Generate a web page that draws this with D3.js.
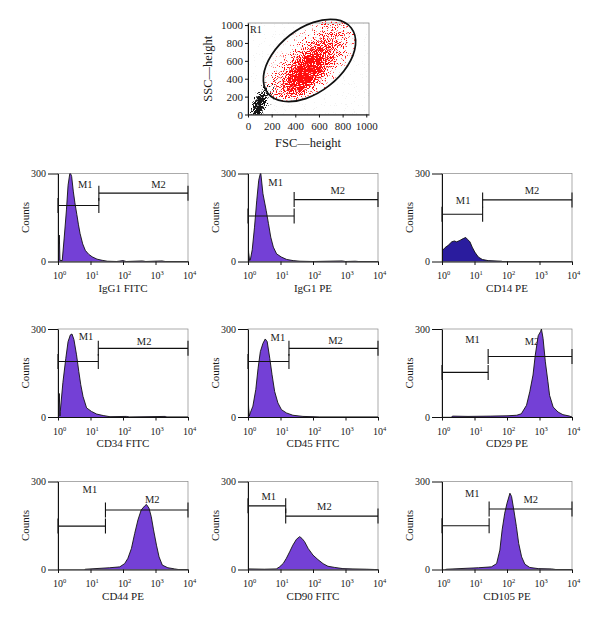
<!DOCTYPE html>
<html><head><meta charset="utf-8">
<script src="https://cdn.jsdelivr.net/npm/d3@7"></script>
<style>
body{margin:0;background:#fff}
svg{display:block}
text{font-family:"Liberation Serif","Times New Roman",serif;fill:#1a1a1a}
</style>
</head><body>
<svg id="chart" width="600" height="628"></svg>
<script>
// ---------------- DATA ----------------
// Scatter (FSC/SSC) axis ticks
const fscTicks = [0, 200, 400, 600, 800, 1000];
const sscTicks = [0, 200, 400, 600, 800, 1000];
// R1 gate outline vertices (FSC, SSC)
const gateR1 = [[873,967],[909,778],[841,542],[686,322],[488,178],[298,148],[167,239],[131,430],[199,666],[353,886],[552,1030],[743,1060]];
// Event clouds: centre, spread and correlation
const gatedClouds = [
  {fsc:470, ssc:430, sdFsc:75,  sdSsc:100, rho:0.5,  weight:1.0},
  {fsc:490, ssc:480, sdFsc:140, sdSsc:190, rho:0.6,  weight:0.85},
  {fsc:570, ssc:640, sdFsc:210, sdSsc:290, rho:0.75, weight:0.55}
];
const debrisClouds = [
  {fsc:80,  ssc:50,  sdFsc:30, sdSsc:60,  rho:0.3, weight:1.0},
  {fsc:95,  ssc:120, sdFsc:38, sdSsc:85,  rho:0.5, weight:1.0},
  {fsc:140, ssc:200, sdFsc:45, sdSsc:100, rho:0.6, weight:0.5}
];

// Histogram panels
const panelNames = ["IgG1 FITC","IgG1 PE","CD14 PE","CD34 FITC","CD45 FITC","CD29 PE","CD44 PE","CD90 FITC","CD105 PE"];
const countTicks = [0, 300];
const decadeTicks = [1, 10, 100, 1000, 10000];
// [log10 fluorescence, counts]
const histIgG1FITC = [[0,140],[0.02,60],[0.04,90],[0.06,4],[0.13,3],[0.19,80],[0.26,176],[0.31,260],[0.37,305],[0.42,290],[0.47,240],[0.52,200],[0.58,160],[0.63,125],[0.68,95],[0.76,60],[0.84,38],[0.94,25],[1.05,16],[1.2,8],[1.36,4],[1.52,1],[1.8,0],[2.0,3],[2.1,0],[2.6,2],[2.7,0],[3.2,2],[3.3,0],[4,0]];
const histIgG1PE = [[0,78],[0.02,30],[0.05,3],[0.07,5],[0.13,40],[0.2,117],[0.27,209],[0.33,277],[0.39,305],[0.46,231],[0.56,174],[0.63,129],[0.7,83],[0.78,49],[0.88,26],[1.03,15],[1.19,7],[1.39,3],[1.6,1],[2.0,0],[2.9,2],[3.0,0],[3.3,1],[3.4,0],[4,0]];
const histCD14PE = [[0,38],[0.02,38],[0.09,47],[0.19,55],[0.3,67],[0.38,70],[0.45,67],[0.55,72],[0.65,78],[0.73,82],[0.79,75],[0.86,67],[0.93,49],[1.01,32],[1.12,15],[1.24,7],[1.42,3],[1.83,1],[1.85,0],[4,0]];
const histCD34FITC = [[0,127],[0.02,50],[0.04,80],[0.06,3],[0.07,19],[0.15,117],[0.24,200],[0.31,257],[0.38,280],[0.43,283],[0.49,264],[0.57,212],[0.64,155],[0.7,110],[0.77,70],[0.88,31],[1.03,19],[1.19,10],[1.39,5],[1.6,1],[2.1,2],[2.2,0],[3.3,2],[3.35,0],[4,0]];
const histCD45FITC = [[0,87],[0.02,30],[0.04,3],[0.07,14],[0.15,37],[0.24,94],[0.31,166],[0.38,223],[0.46,251],[0.53,266],[0.59,257],[0.67,200],[0.74,144],[0.82,87],[0.92,48],[1.03,25],[1.18,14],[1.38,6],[1.69,2],[2.0,1],[2.2,0],[4,0]];
const histCD29PE = [[0.3,0],[0.32,3],[0.8,2],[1.5,3],[2.0,4],[2.3,6],[2.44,11],[2.6,40],[2.7,86],[2.8,143],[2.87,211],[2.96,277],[3.03,291],[3.06,300],[3.11,268],[3.18,188],[3.26,120],[3.31,74],[3.42,34],[3.57,17],[3.72,8],[3.93,3],[4,0]];
const histCD44PE = [[0.82,0],[0.85,1],[1.59,6],[1.9,9],[2.05,20],[2.15,38],[2.26,72],[2.36,123],[2.46,169],[2.56,203],[2.67,217],[2.72,222],[2.8,209],[2.87,180],[2.94,135],[3.03,83],[3.11,43],[3.21,15],[3.38,6],[3.59,2],[3.7,0],[4,0]];
const histCD90FITC = [[0,9],[0.02,2],[0.5,1],[0.87,2],[0.97,9],[1.08,20],[1.18,38],[1.28,60],[1.38,83],[1.49,103],[1.59,112],[1.66,106],[1.74,95],[1.85,72],[2.0,49],[2.15,34],[2.31,20],[2.46,11],[2.67,7],[2.92,3],[3.23,2],[3.64,1],[3.9,0],[4,0]];
const histCD105PE = [[0.1,0],[0.15,1],[1.12,6],[1.52,9],[1.68,20],[1.78,66],[1.85,135],[1.93,192],[2.0,226],[2.09,260],[2.14,249],[2.21,203],[2.29,146],[2.36,89],[2.45,43],[2.55,18],[2.7,7],[2.96,3],[3.37,2],[3.5,0],[4,0]];
const histograms = [histIgG1FITC, histIgG1PE, histCD14PE, histCD34FITC, histCD45FITC, histCD29PE, histCD44PE, histCD90FITC, histCD105PE];
// Markers: split point (log10), M1 and M2 levels (counts), label positions [log10, counts]
const markerSplit = [1.257, 1.42, 1.25, 1.24, 1.26, 1.42, 1.46, 1.16, 1.45];
const m1Level = [191, 155, 161, 189, 189, 152, 148, 217, 149];
const m2Level = [233, 211, 210, 234, 234, 206, 203, 182, 206];
const m1LabelPos = [[0.84,262],[0.85,271],[0.65,208],[0.86,274],[0.92,271],[0.94,266],[0.98,274],[0.64,249],[0.93,260]];
const m2LabelPos = [[3.09,262],[2.76,243],[2.77,242],[2.65,257],[2.69,263],[2.77,257],[2.9,239],[2.35,214],[2.73,240]];

// ---------------- STYLE / LAYOUT ----------------
const colLeft = [58, 248, 442];
const rowTop = [173.5, 329, 481.5];
const PW = 130, PH = 88;
const fills = ["#7440d6","#7440d6","#2a1c9e","#7440d6","#7440d6","#7440d6","#7440d6","#7440d6","#7440d6"];

const svg = d3.select("#chart");
const defs = svg.append("defs");

// ---------------- SCATTER ----------------
const sx = d3.scaleLinear([0, 1023], [248, 369]);
const sy = d3.scaleLinear([0, 1023], [114.5, 23]);

// gaussian-profile radial gradient
const grad = defs.append("radialGradient").attr("id", "grad-cloud");
d3.range(0, 1.0001, 0.1).forEach(r => {
  grad.append("stop").attr("offset", r).attr("stop-color", "#000")
    .attr("stop-opacity", Math.exp(-0.5 * (2.5 * r) ** 2));
});

// speckle texture: density (alpha) -> fraction of lit pixels
function speckle(id, color, seed, k4) {
  const f = defs.append("filter").attr("id", id)
    .attr("filterUnits", "userSpaceOnUse")
    .attr("x", 240).attr("y", 10).attr("width", 140).attr("height", 115)
    .attr("color-interpolation-filters", "sRGB");
  f.append("feTurbulence").attr("type", "fractalNoise").attr("baseFrequency", 0.9)
    .attr("numOctaves", 1).attr("seed", seed).attr("result", "noise0");
  const ct = f.append("feComponentTransfer").attr("in", "noise0").attr("result", "noise");
  ct.append("feFuncA").attr("type", "linear").attr("slope", 2.6).attr("intercept", -0.8);
  f.append("feComposite").attr("in", "SourceAlpha").attr("in2", "noise")
    .attr("operator", "arithmetic").attr("k1", 0).attr("k2", 6).attr("k3", 6).attr("k4", k4)
    .attr("result", "mask");
  f.append("feFlood").attr("flood-color", color).attr("result", "col");
  f.append("feComposite").attr("in", "col").attr("in2", "mask").attr("operator", "in");
}
speckle("speck-red", "#ff0d0d", 7, -5.85);
speckle("speck-black", "#141414", 3, -5.95);

defs.append("clipPath").attr("id", "clip-scatter").append("rect")
  .attr("x", sx(0)).attr("y", sy(1023)).attr("width", sx(1023) - sx(0)).attr("height", sy(0) - sy(1023));

const gateLine = d3.line().x(d => sx(d[0])).y(d => sy(d[1])).curve(d3.curveCardinalClosed.tension(0));
defs.append("clipPath").attr("id", "clip-gate").append("path").attr("d", gateLine(gateR1));

function cloudEllipse(c) {
  const kx = Math.abs(sx(1) - sx(0)), ky = Math.abs(sy(1) - sy(0));
  const vx = (c.sdFsc * kx) ** 2, vy = (c.sdSsc * ky) ** 2;
  const cov = -c.rho * c.sdFsc * kx * c.sdSsc * ky;
  const m = (vx + vy) / 2, d = Math.sqrt(((vx - vy) / 2) ** 2 + cov ** 2);
  const ang = 0.5 * Math.atan2(2 * cov, vx - vy) * 180 / Math.PI;
  return {cx: sx(c.fsc), cy: sy(c.ssc), rx: 2.5 * Math.sqrt(m + d), ry: 2.5 * Math.sqrt(m - d), ang};
}

const scatter = svg.append("g");
scatter.append("rect").attr("x", sx(0)).attr("y", sy(1023))
  .attr("width", sx(1023) - sx(0)).attr("height", sy(0) - sy(1023))
  .attr("fill", "#fff").attr("stroke", "#777").attr("stroke-width", 0.7);

function drawClouds(data, filter, clip) {
  const g = scatter.append("g").attr("clip-path", `url(#${clip})`)
    .append("g").attr("filter", `url(#${filter})`);
  g.selectAll("ellipse").data(data.map(cloudEllipse)).join("ellipse")
    .attr("cx", 0).attr("cy", 0).attr("rx", d => d.rx).attr("ry", d => d.ry)
    .attr("transform", d => `translate(${d.cx},${d.cy}) rotate(${d.ang})`)
    .attr("fill", "url(#grad-cloud)")
    .attr("fill-opacity", (d, i) => data[i].weight);
}
drawClouds(debrisClouds, "speck-black", "clip-scatter");
drawClouds(gatedClouds, "speck-red", "clip-gate");

scatter.append("path").attr("d", gateLine(gateR1))
  .attr("fill", "none").attr("stroke", "#111").attr("stroke-width", 1.7);

// scatter axes
const sAxB = scatter.append("g").attr("transform", `translate(0,${sy(0)})`);
sAxB.call(d3.axisBottom(sx).tickValues(d3.range(0, 1024, 32)).tickSize(2).tickSizeOuter(0).tickFormat(""));
sAxB.call(d3.axisBottom(sx).tickValues(fscTicks).tickSize(3).tickSizeOuter(0).tickPadding(5).tickFormat(d3.format("d")));
const sAxL = scatter.append("g").attr("transform", `translate(${sx(0)},0)`);
sAxL.call(d3.axisLeft(sy).tickValues(d3.range(0, 1024, 32)).tickSize(2).tickSizeOuter(0).tickFormat(""));
sAxL.call(d3.axisLeft(sy).tickValues(sscTicks).tickSize(3).tickSizeOuter(0).tickPadding(2).tickFormat(d3.format("d")));
scatter.selectAll(".tick text").attr("font-size", 11).attr("font-family", "Liberation Serif, serif").attr("fill", "#1a1a1a");
scatter.selectAll(".domain, .tick line").attr("stroke", "#111");

scatter.append("text").attr("x", 308).attr("y", 146.5).attr("text-anchor", "middle")
  .attr("font-size", 12.5).text("FSC\u2014height");
scatter.append("text").attr("transform", `translate(212,${(sy(0) + sy(1023)) / 2}) rotate(-90)`)
  .attr("text-anchor", "middle").attr("font-size", 12.5).text("SSC\u2014height");
scatter.append("text").attr("x", 250).attr("y", 33).attr("font-size", 10).text("R1");

// ---------------- HISTOGRAMS ----------------
const minorDecade = [];
[0, 1, 2, 3].forEach(p => d3.range(2, 10).forEach(k => minorDecade.push(k * 10 ** p)));

histograms.forEach((hist, i) => {
  const left = colLeft[i % 3], top = rowTop[Math.floor(i / 3)];
  const right = left + PW, bottom = top + PH;
  const x = d3.scaleLog().domain([1, 1e4]).range([left, right]);
  const y = d3.scaleLinear().domain([0, 300]).range([bottom, top]);
  const g = svg.append("g");

  defs.append("clipPath").attr("id", "clip-h" + i).append("rect")
    .attr("x", left).attr("y", top).attr("width", PW).attr("height", PH);

  // frame (top/right)
  g.append("rect").attr("x", left).attr("y", top).attr("width", PW).attr("height", PH)
    .attr("fill", "none").attr("stroke", "#888").attr("stroke-width", 0.7);

  // marker labels (under histogram)
  [["M1", m1LabelPos[i]], ["M2", m2LabelPos[i]]].forEach(([t, p]) => {
    g.append("text").attr("x", x(10 ** p[0])).attr("y", y(p[1])).attr("dy", "0.35em")
      .attr("text-anchor", "middle").attr("font-size", 10.5).text(t);
  });

  // histogram
  const hg = g.append("g").attr("clip-path", `url(#clip-h${i})`);
  const area = d3.area().x(d => x(10 ** d[0])).y0(y(0)).y1(d => y(d[1]));
  const line = d3.line().x(d => x(10 ** d[0])).y(d => y(d[1]));
  hg.append("path").datum(hist).attr("d", area).attr("fill", fills[i]);
  hg.append("path").datum(hist).attr("d", line).attr("fill", "none")
    .attr("stroke", "#111").attr("stroke-width", 0.9).attr("stroke-linejoin", "round");

  // markers
  const split = 10 ** markerSplit[i];
  const mk = [[1, split, m1Level[i]], [split, 1e4, m2Level[i]]];
  mk.forEach(([a, b, lv]) => {
    const yy = y(lv);
    g.append("line").attr("x1", x(a)).attr("x2", x(b)).attr("y1", yy).attr("y2", yy)
      .attr("stroke", "#111").attr("stroke-width", 1.1);
    [a, b].forEach(v => g.append("line").attr("x1", x(v)).attr("x2", x(v))
      .attr("y1", yy - 7.5).attr("y2", yy + 7.5).attr("stroke", "#111").attr("stroke-width", 1.1));
  });

  // axes
  const ax = g.append("g").attr("transform", `translate(0,${bottom})`);
  ax.call(d3.axisBottom(x).tickValues(minorDecade).tickSize(2).tickSizeOuter(0).tickFormat(""));
  ax.call(d3.axisBottom(x).tickValues(decadeTicks).tickSize(3.5).tickSizeOuter(0).tickFormat(""));
  const ay = g.append("g").attr("transform", `translate(${left},0)`);
  ay.call(d3.axisLeft(y).tickValues(d3.range(0, 301, 12)).tickSize(2).tickSizeOuter(0).tickFormat(""));
  ay.call(d3.axisLeft(y).tickValues(countTicks).tickSize(10).tickSizeOuter(0).tickPadding(2).tickFormat(d3.format("d")));
  g.selectAll(".tick text").attr("font-size", 10).attr("font-family", "Liberation Serif, serif").attr("fill", "#1a1a1a");
  g.selectAll(".domain, .tick line").attr("stroke", "#111");

  // decade labels 10^n
  decadeTicks.forEach((v, k) => {
    const t = g.append("text").attr("x", x(v) - 5).attr("y", bottom + 17.5).attr("font-size", 10).text("10");
    t.append("tspan").attr("dy", -4).attr("font-size", 6.5).text(k);
  });

  // titles
  g.append("text").attr("x", (left + right) / 2).attr("y", bottom + 30)
    .attr("text-anchor", "middle").attr("font-size", 11).text(panelNames[i]);
  g.append("text").attr("transform", `translate(${left - 33},${(top + bottom) / 2}) rotate(-90)`)
    .attr("dy", "0.35em").attr("text-anchor", "middle").attr("font-size", 11).text("Counts");
});
</script>
</body></html>
